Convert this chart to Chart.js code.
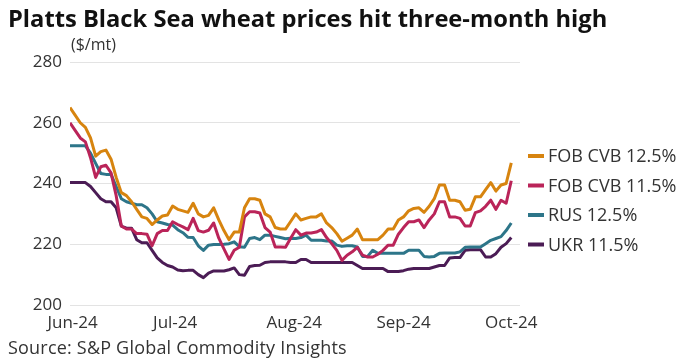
<!DOCTYPE html>
<html>
<head>
<meta charset="utf-8">
<script src="https://cdn.jsdelivr.net/npm/chart.js@4.4.1/dist/chart.umd.min.js"></script>
<style>
  body { margin: 0; background: #fff; font-family: "Open Sans", "Liberation Sans", sans-serif; }
  #wrap { position: relative; width: 682px; height: 363px; }
  #title { position: absolute; left: 8px; top: 2px; font-size: 23.7px; font-weight: bold; color: #111; white-space: nowrap; }
  #unit { position: absolute; left: 71px; top: 33px; font-size: 16px; color: #333; }
  #source { position: absolute; left: 8px; top: 335px; font-size: 18px; letter-spacing: 0.2px; color: #333; white-space: nowrap; }
  canvas { position: absolute; left: 0; top: 0; }
</style>
</head>
<body>
<div id="wrap">
  <canvas id="grafica" width="682" height="363"></canvas>
  <div id="title">Platts Black Sea wheat prices hit three-month high</div>
  <div id="unit">($/mt)</div>
  <div id="source">Source: S&amp;P Global Commodity Insights</div>
</div>
<script>
// business days, Jun 3 2024 .. Oct 1 2024 (index 0..86)
const tickLabels = ["Jun-24", "Jul-24", "Aug-24", "Sep-24", "Oct-24"];
const tickPos = [0.5, 20.5, 43.7, 65, 86];
const yTicks = [200, 220, 240, 260, 280];

const fobCvb125 = [
  265, 262.5, 260, 258.5, 255, 249, 250.5, 251, 248, 242, 237, 236, 234, 231.5, 229, 228.5, 226.5, 228, 229.3, 229.6, 232.6, 231.5,
  231, 230.5, 233.5, 230, 229, 229.5, 232, 228, 224.5, 221.5, 224, 224, 232, 235, 235, 234.5, 230, 229, 225.5, 225, 225, 227.5,
  230, 228, 228.5, 229, 229, 230, 227, 225.5, 223.5, 221, 222, 223, 225, 221.5, 221.5, 221.5, 221.5, 223, 225, 225, 228,
  229, 231, 231.8, 232, 230.5, 232.5, 235, 239.5, 239.5, 234.5, 234.5, 234, 231.2, 231.5, 235.6, 235.6, 238, 240.3, 237.5, 239.5, 240, 246.8
];
const fobCvb115 = [
  260, 257.5, 255, 253.7, 248.5, 242, 245.5, 246, 243.5, 236, 226, 225, 225, 223.5, 223.5, 223.3, 219.5, 223.5, 224.5, 224.5, 227.4, 226.5,
  225.7, 224.8, 228.5, 224.5, 224, 224.6, 227, 222, 218.5, 215, 218, 219, 229, 230.7, 230.7, 230.3, 225.5, 224, 219.1, 219.1, 219, 222,
  224.8, 223, 223.7, 223.7, 224, 224.8, 222.2, 220.2, 218, 214.7, 216.4, 217.5, 219, 216.4, 215.8, 215.8, 216.7, 218, 219.7, 219.7, 223.3,
  225.5, 227.4, 227.4, 228, 225.5, 228, 230, 234, 234, 229, 229, 228.5, 226, 226, 230.4, 231, 232.5, 234.5, 231.5, 234.5, 233.5, 240.9
];
const rus125 = [
  252.4, 252.4, 252.4, 252.4, 250, 246.6, 243.3, 243, 243, 239, 235, 234, 233.5, 233, 233, 232, 230, 227.4, 227, 226.5, 226.3, 224.8,
  223.8, 222.3, 222.2, 219.5, 218, 219.7, 219.9, 219.9, 220, 220.2, 220.8, 219.2, 219, 221.9, 222.2, 221.5, 223, 223, 222.6, 222.2, 221.8, 222,
  221.9, 222.2, 223, 221.3, 221.3, 221.3, 221.1, 221.1, 219.7, 219.3, 219.5, 219.5, 219.1, 216, 216, 218, 217, 217, 217, 217, 217,
  217, 218, 218, 218, 216, 215.8, 216, 217, 217.1, 217.1, 217.1, 217.5, 219, 219.1, 219.1, 219.1, 220.2, 221.3, 221.9, 222.5, 224.5, 227
];
const ukr115 = [
  240.3, 240.3, 240.3, 240.3, 239, 237, 235, 234, 234, 232, 226, 225.3, 225.3, 221.5, 220.5, 220.5, 218, 215.5, 214, 213, 212.5, 211.5,
  211.3, 211.4, 211.4, 210, 209, 210.5, 211.2, 211.2, 211.2, 211.6, 212.2, 210, 209.8, 212.7, 213, 213.1, 214, 214.2, 214.2, 214.2, 214.2, 214,
  214, 215, 215, 214, 214, 214, 214, 214, 214, 214, 214, 214, 213, 212, 212, 212, 212, 212, 211, 211, 211,
  211.3, 211.8, 212, 212, 212, 212, 212.5, 213, 213, 215.5, 215.6, 215.6, 218, 218.2, 218.2, 218.2, 215.8, 215.8, 216.9, 219, 220.2, 222.2
];

const seriesNames = ["FOB CVB 12.5%", "FOB CVB 11.5%", "RUS 12.5%", "UKR 11.5%"];
const seriesColors = ["#D7840F", "#BA2459", "#2D7589", "#4B1C55"];
const seriesData = [fobCvb125, fobCvb115, rus125, ukr115];

const toPoints = arr => arr.map((v, i) => ({ x: i, y: v }));

const legendaDerecha = {
  id: "legendaDerecha",
  afterDraw(chart) {
    const ctx = chart.ctx;
    ctx.save();
    ctx.font = "18px 'Open Sans', 'Liberation Sans', sans-serif";
    ctx.textBaseline = "middle";
    chart.data.datasets.forEach((ds, k) => {
      const y = 156 + k * 29.5;
      ctx.fillStyle = ds.borderColor;
      ctx.fillRect(528, y - 2, 16, 4);
      ctx.fillStyle = "#333";
      ctx.fillText(ds.label, 548, y + 1);
    });
    ctx.restore();
  }
};

new Chart(document.getElementById("grafica").getContext("2d"), {
  type: "line",
  data: {
    datasets: seriesNames.map((name, k) => ({
      label: name,
      data: toPoints(seriesData[k]),
      borderColor: seriesColors[k],
      borderWidth: 3,
      pointRadius: 0,
      tension: 0,
      borderJoinStyle: "round",
      fill: false
    }))
  },
  options: {
    responsive: false,
    animation: false,
    layout: { padding: { top: 62, right: 162, left: 0, bottom: 0 } },
    plugins: { legend: { display: false }, tooltip: { enabled: false } },
    scales: {
      x: {
        type: "linear",
        min: 0,
        max: 87.7,
        grid: { display: false },
        border: { display: false },
        afterFit(s) { s.height = 58; },
        afterBuildTicks(s) { s.ticks = tickPos.map(v => ({ value: v })); },
        ticks: {
          padding: 0,
          maxRotation: 0,
          autoSkip: false,
          color: "#333",
          font: { family: "'Open Sans'", size: 17 },
          callback: (v, i) => tickLabels[i]
        }
      },
      y: {
        min: 200,
        max: 280,
        afterFit(s) { s.width = 70; },
        afterBuildTicks(s) { s.ticks = yTicks.map(v => ({ value: v })); },
        grid: { color: "#e3e3e3", lineWidth: 1, drawTicks: false },
        border: { display: false },
        ticks: {
          padding: 8,
          color: "#333",
          font: { family: "'Open Sans'", size: 17 }
        }
      }
    }
  },
  plugins: [legendaDerecha]
});
</script>
</body>
</html>
